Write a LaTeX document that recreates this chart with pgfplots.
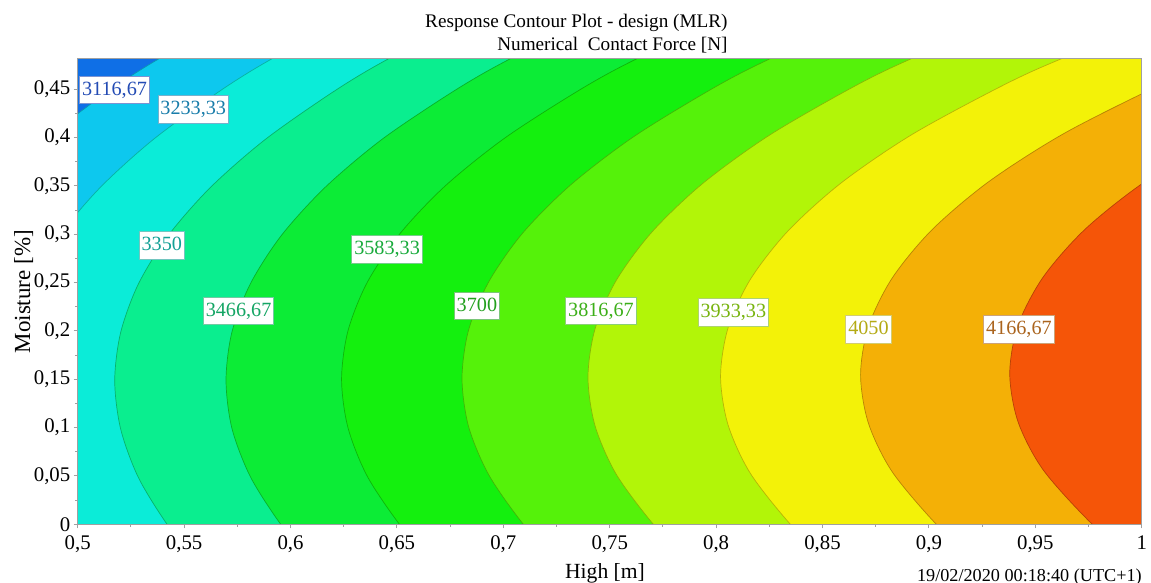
\documentclass[border=0pt]{standalone}
\usepackage{fontspec}
\setmainfont{Liberation Serif}
\usepackage{pgfplots}
\pgfplotsset{compat=1.18}
\definecolor{c0}{RGB}{15,111,230}
\definecolor{c1}{RGB}{13,200,238}
\definecolor{c2}{RGB}{11,236,216}
\definecolor{c3}{RGB}{10,238,143}
\definecolor{c4}{RGB}{12,236,54}
\definecolor{c5}{RGB}{20,240,14}
\definecolor{c6}{RGB}{85,242,10}
\definecolor{c7}{RGB}{178,245,8}
\definecolor{c8}{RGB}{243,242,8}
\definecolor{c9}{RGB}{244,176,6}
\definecolor{c10}{RGB}{245,85,8}
\definecolor{axgray}{RGB}{160,160,160}
\definecolor{l1}{RGB}{35,75,180}
\definecolor{l2}{RGB}{25,125,170}
\definecolor{l3}{RGB}{20,160,150}
\definecolor{l4}{RGB}{20,165,100}
\definecolor{l5}{RGB}{25,170,60}
\definecolor{l6}{RGB}{35,160,30}
\definecolor{l7}{RGB}{60,175,25}
\definecolor{l8}{RGB}{120,180,15}
\definecolor{l9}{RGB}{180,170,20}
\definecolor{l10}{RGB}{170,100,30}
\tikzset{lab/.style={fill=white, line width=0.4bp, font=\fontsize{10.1bp}{12bp}\selectfont,
  text height=6.9bp, text depth=1.5bp, inner xsep=1.2bp, inner ysep=2.7bp}}
\begin{document}
\begin{tikzpicture}
\useasboundingbox (-38.85bp,-29.35bp) rectangle (536.65bp,262.15bp);
\begin{axis}[
  scale only axis, width=532bp, height=232.65bp,
  at={(0,0)}, anchor=south west,
  xmin=0.5, xmax=1, ymin=0, ymax=0.4813,
  xtick={0.5,0.55,0.6,0.65,0.7,0.75,0.8,0.85,0.9,0.95,1},
  xticklabels={{0,5},{0,55},{0,6},{0,65},{0,7},{0,75},{0,8},{0,85},{0,9},{0,95},1},
  ytick={0,0.05,0.1,0.15,0.2,0.25,0.3,0.35,0.4,0.45},
  yticklabels={0,{0,05},{0,1},{0,15},{0,2},{0,25},{0,3},{0,35},{0,4},{0,45}},
  minor tick num=1,
  tick align=outside, tick pos=left,
  major tick length=2bp, minor tick length=1.2bp,
  tick style={axgray, line width=0.5bp},
  axis line style={axgray, line width=0.5bp},
  axis on top,
  tick label style={font=\fontsize{10.4bp}{12bp}\selectfont, text=black},
  yticklabel style={xshift=1.8bp},
]
\addplot[fill=c0, draw=none] coordinates {(0.4,-0.1) (1.2,-0.1) (1.2,0.6) (0.4,0.6)} -- cycle;
\addplot[smooth, fill=c1, draw=c1!75!black, line width=0.35bp] coordinates {
(0.4545,-0.04) (0.4410,0) (0.4286,0.048) (0.4208,0.098) (0.4182,0.148) (0.4208,0.198) (0.4286,0.248) (0.4417,0.298) (0.4602,0.348) (0.4844,0.398) (0.5145,0.448) (0.5380,0.4813) (0.5782,0.53) (1.4,0.62) (1.4,-0.12)} -- cycle;
\addplot[smooth, fill=c2, draw=c2!75!black, line width=0.35bp] coordinates {
(0.5045,-0.04) (0.4906,0) (0.4777,0.048) (0.4696,0.098) (0.4669,0.148) (0.4696,0.198) (0.4777,0.248) (0.4912,0.298) (0.5104,0.348) (0.5355,0.398) (0.5667,0.448) (0.5911,0.4813) (0.6328,0.53) (1.4,0.62) (1.4,-0.12)} -- cycle;
\addplot[smooth, fill=c3, draw=c3!75!black, line width=0.35bp] coordinates {
(0.5565,-0.04) (0.5420,0) (0.5285,0.0485) (0.5202,0.0985) (0.5174,0.1485) (0.5202,0.1985) (0.5285,0.2485) (0.5425,0.2985) (0.5624,0.3485) (0.5884,0.3985) (0.6209,0.4485) (0.6459,0.4813) (0.6893,0.53) (1.4,0.62) (1.4,-0.12)} -- cycle;
\addplot[smooth, fill=c4, draw=c4!75!black, line width=0.35bp] coordinates {
(0.6105,-0.04) (0.5954,0) (0.5812,0.049) (0.5725,0.099) (0.5697,0.149) (0.5725,0.199) (0.5812,0.249) (0.5958,0.299) (0.6165,0.349) (0.6435,0.399) (0.6774,0.449) (0.7031,0.4813) (0.7484,0.53) (1.4,0.62) (1.4,-0.12)} -- cycle;
\addplot[smooth, fill=c5, draw=c5!75!black, line width=0.35bp] coordinates {
(0.6670,-0.04) (0.6512,0) (0.6360,0.05) (0.6270,0.10) (0.6240,0.15) (0.6270,0.20) (0.6360,0.25) (0.6512,0.30) (0.6727,0.35) (0.7010,0.40) (0.7364,0.45) (0.7625,0.4813) (0.8099,0.53) (1.4,0.62) (1.4,-0.12)} -- cycle;
\addplot[smooth, fill=c6, draw=c6!75!black, line width=0.35bp] coordinates {
(0.7261,-0.04) (0.7094,0) (0.6932,0.051) (0.6837,0.101) (0.6806,0.151) (0.6837,0.201) (0.6932,0.251) (0.7090,0.301) (0.7316,0.351) (0.7613,0.401) (0.7985,0.451) (0.8251,0.4813) (0.8750,0.53) (1.4,0.62) (1.4,-0.12)} -- cycle;
\addplot[smooth, fill=c7, draw=c7!75!black, line width=0.35bp] coordinates {
(0.7882,-0.04) (0.7705,0) (0.7530,0.052) (0.7431,0.102) (0.7398,0.152) (0.7431,0.202) (0.7530,0.252) (0.7697,0.302) (0.7934,0.352) (0.8247,0.402) (0.8641,0.452) (0.8914,0.4813) (0.9442,0.53) (1.4,0.62) (1.4,-0.12)} -- cycle;
\addplot[smooth, fill=c8, draw=c8!75!black, line width=0.35bp] coordinates {
(0.8537,-0.04) (0.8349,0) (0.8160,0.053) (0.8056,0.103) (0.8021,0.153) (0.8056,0.203) (0.8160,0.253) (0.8336,0.303) (0.8587,0.353) (0.8919,0.403) (0.9339,0.453) (0.9620,0.4813) (1.0184,0.53) (1.4,0.62) (1.4,-0.12)} -- cycle;
\addplot[smooth, fill=c9, draw=c9!75!black, line width=0.35bp] coordinates {
(0.9237,-0.04) (0.9035,0) (0.8827,0.0545) (0.8716,0.1045) (0.8679,0.1545) (0.8716,0.2045) (0.8827,0.2545) (0.9014,0.3045) (0.9282,0.3545) (0.9637,0.4045) (1.0088,0.4545) (1.0375,0.4813) (1.0982,0.53) (1.4,0.62) (1.4,-0.12)} -- cycle;
\addplot[smooth, fill=c10, draw=c10!75!black, line width=0.35bp] coordinates {
(0.9987,-0.04) (0.9768,0) (0.9538,0.056) (0.9419,0.106) (0.9380,0.156) (0.9419,0.206) (0.9538,0.256) (0.9738,0.306) (1.0026,0.356) (1.0410,0.406) (1.0902,0.456) (1.1198,0.4813) (1.1862,0.53) (1.4,0.62) (1.4,-0.12)} -- cycle;
\node[lab, text=l1, draw=l1!60] at (axis cs:0.5173,0.4493) {3116,67};
\node[lab, text=l2, draw=l2!60] at (axis cs:0.5543,0.4294) {3233,33};
\node[lab, text=l3, draw=l3!60] at (axis cs:0.5395,0.2884) {3350};
\node[lab, text=l4, draw=l4!60] at (axis cs:0.5756,0.2207) {3466,67};
\node[lab, text=l5, draw=l5!60] at (axis cs:0.6454,0.2843) {3583,33};
\node[lab, text=l6, draw=l6!60] at (axis cs:0.6876,0.2259) {3700};
\node[lab, text=l7, draw=l7!60] at (axis cs:0.7459,0.2206) {3816,67};
\node[lab, text=l8, draw=l8!60] at (axis cs:0.8081,0.2191) {3933,33};
\node[lab, text=l9, draw=l9!60] at (axis cs:0.8716,0.2018) {4050};
\node[lab, text=l10, draw=l10!60] at (axis cs:0.9423,0.2018) {4166,67};
\end{axis}
\node[anchor=base east, inner sep=0, font=\fontsize{9.6bp}{11bp}\selectfont] at (325.15bp,248.15bp) {Response Contour Plot - design (MLR)};
\node[anchor=base east, inner sep=0, font=\fontsize{9.6bp}{11bp}\selectfont] at (325.15bp,236.65bp) {Numerical\ \ Contact Force [N]};
\node[rotate=90, anchor=base, inner sep=0, font=\fontsize{11.5bp}{13bp}\selectfont] at (-23.85bp,116.3bp) {Moisture [\%]};
\node[anchor=base, inner sep=0, font=\fontsize{10.8bp}{13bp}\selectfont] at (263.65bp,-26.85bp) {High [m]};
\node[anchor=base west, inner sep=0, font=\fontsize{9.1bp}{11bp}\selectfont] at (419.5bp,-28.6bp) {19/02/2020 00:18:40 (UTC+1)};
\end{tikzpicture}
\end{document}
